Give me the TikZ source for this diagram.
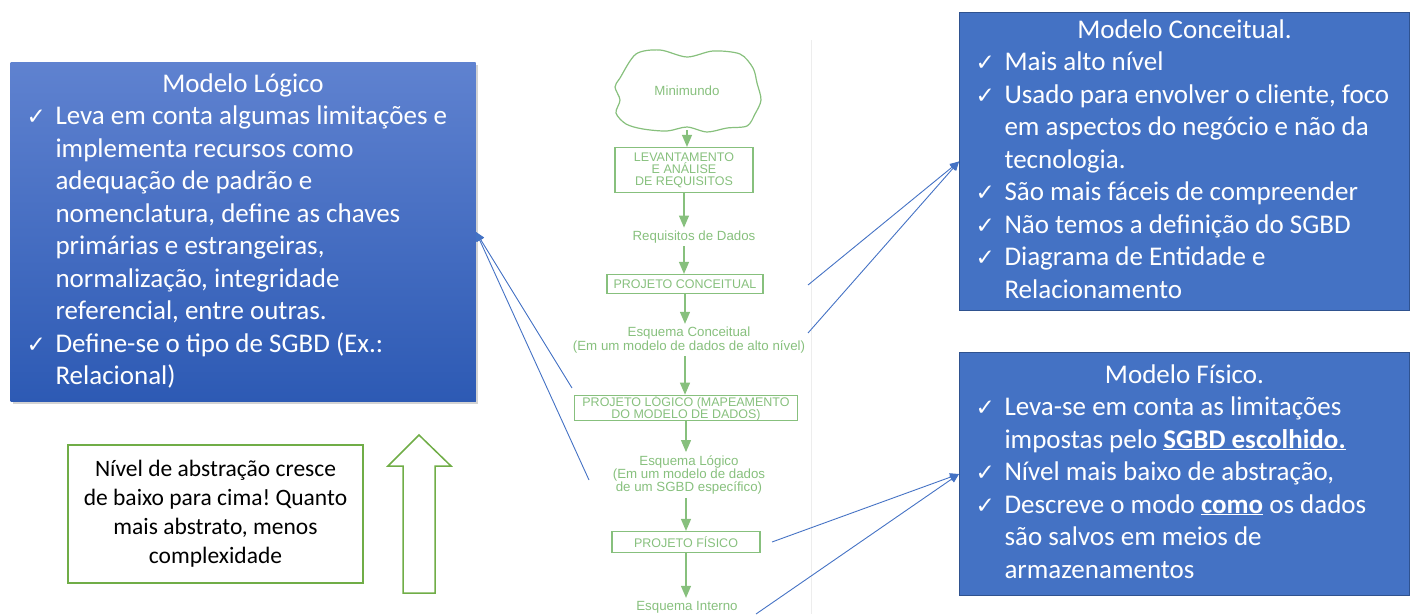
\documentclass[tikz,border=0pt]{standalone}
\usepackage{fontspec}
\setmainfont{Carlito}
\newfontfamily\flowfont{Liberation Sans}
\newfontfamily\symfont{DejaVu Sans}
\usetikzlibrary{arrows.meta,shadows}
\frenchspacing

\definecolor{boxblue}{RGB}{68,114,196}
\definecolor{boxedge}{RGB}{47,82,143}
\definecolor{gradtop}{RGB}{95,130,208}
\definecolor{gradbot}{RGB}{45,90,180}
\definecolor{notegreen}{RGB}{112,173,71}
\definecolor{flowgreen}{RGB}{135,192,125}

\newcommand{\chk}{{\symfont\fontsize{23}{23}\selectfont ✓}}

\tikzset{
  bluebox/.style={fill=boxblue, draw=boxedge, line width=1pt, text=white, inner sep=0pt,
    anchor=north west, font=\fontsize{27}{32.5}\selectfont},
  flowbox/.style={draw=flowgreen, line width=1.2pt, text=flowgreen, inner sep=0pt, align=center,
    font=\flowfont\fontsize{12.5}{12}\selectfont},
  flowtext/.style={text=flowgreen, inner sep=3pt, align=center,
    font=\flowfont\fontsize{13.3}{12}\selectfont},
  flowarrow/.style={color=flowgreen, line width=1.2pt, -{Triangle[length=12pt,width=10pt]}},
  bluearrow/.style={color=boxblue, line width=0.9pt, -{Triangle[length=9pt,width=8pt]}},
}

\begin{document}
\begin{tikzpicture}[x=1pt, y=-1pt]
	\useasboundingbox (0,0) rectangle (1410,614);

	% faint edge of the pasted figure
	\draw[black!7, line width=0.8pt] (811,40) -- (811,614);

	% flowchart
	\draw[flowgreen, line width=1.2pt] plot[smooth cycle] coordinates {(620,78) (636,54) (660,50) (687,57) (713,51) (740,54) (753,68) (757,83) (761,100) (755,114) (747,126) (727,128) (707,132) (687,127) (667,131) (643,129) (626,124) (616,113) (620,100) (615,87)};
	\node[flowtext, minimum width=140pt, minimum height=78pt] (mini) at (687,91) {Minimundo};
	\node[flowbox, minimum width=138pt, minimum height=45pt] (levant) at (684,170) {LEVANTAMENTO\\E ANÁLISE\\DE REQUISITOS};
	\node[flowtext] (reqdados) at (694,237) {Requisitos de Dados};
	\node[flowbox, minimum width=156pt, minimum height=19pt] (pconc) at (685,284) {PROJETO CONCEITUAL};
	\node[flowtext] (econc) at (689,340) {Esquema Conceitual\\(Em um modelo de dados de alto nível)};
	\node[flowbox, minimum width=223pt, minimum height=25pt] (plog) at (686,408) {PROJETO LÓGICO (MAPEAMENTO\\DO MODELO DE DADOS)};
	\node[flowtext] (elog) at (689,475) {Esquema Lógico\\(Em um modelo de dados\\de um SGBD específico)};
	\node[flowbox, minimum width=148pt, minimum height=21pt] (pfis) at (686,542) {PROJETO FÍSICO};
	\node[flowtext] (eint) at (687,607) {Esquema Interno};

	\path[flowarrow] (mini) edge (mini |- levant.north);
	\path[flowarrow] (levant) edge (levant |- reqdados.north);
	\path[flowarrow] (levant |- reqdados.south) edge (levant |- pconc.north);
	\path[flowarrow] (pconc) edge (pconc |- econc.north);
	\path[flowarrow] (pconc |- econc.south) edge (pconc |- plog.north);
	\path[flowarrow] (plog) edge (plog |- elog.north);
	\path[flowarrow] (plog |- elog.south) edge (plog |- pfis.north);
	\path[flowarrow] (pfis) edge (pfis |- eint.north);

	% text boxes
	\node[bluebox, draw=none, top color=gradtop, bottom color=gradbot,
	      drop shadow={opacity=0.35, shadow xshift=2pt, shadow yshift=-2pt},
	      minimum width=465pt, minimum height=339pt] (logico) at (10,62) {%
		\begin{tabular}{@{}p{29pt}@{}p{404pt}@{}}
		\multicolumn{2}{@{}c@{}}{Modelo Lógico}\\
		\chk & Leva em conta algumas limitações e\\
		     & implementa recursos como\\
		     & adequação de padrão e\\
		     & nomenclatura, define as chaves\\
		     & primárias e estrangeiras,\\
		     & normalização, integridade\\
		     & referencial, entre outras.\\
		\chk & Define-se o tipo de SGBD (Ex.:\\
		     & Relacional)
		\end{tabular}};

	\node[bluebox, minimum width=450pt, minimum height=298pt] (conceitual) at (959,12) {%
		\begin{tabular}{@{}p{29pt}@{}p{389pt}@{}}
		\multicolumn{2}{@{}c@{}}{Modelo Conceitual.}\\
		\chk & Mais alto nível\\
		\chk & Usado para envolver o cliente, foco\\
		     & em aspectos do negócio e não da\\
		     & tecnologia.\\
		\chk & São mais fáceis de compreender\\
		\chk & Não temos a definição do SGBD\\
		\chk & Diagrama de Entidade e\\
		     & Relacionamento
		\end{tabular}};

	\node[bluebox, minimum width=450pt, minimum height=243pt] (fisico) at (959,352) {%
		\begin{tabular}{@{}p{29pt}@{}p{389pt}@{}}
		\multicolumn{2}{@{}c@{}}{Modelo Físico.}\\
		\chk & Leva-se em conta as limitações\\
		     & impostas pelo \underline{\textbf{SGBD escolhido.}}\\
		\chk & Nível mais baixo de abstração,\\
		\chk & Descreve o modo \underline{\textbf{como}} os dados\\
		     & são salvos em meios de\\
		     & armazenamentos
		\end{tabular}};

	\node[draw=notegreen, line width=1.2pt, align=center, minimum width=295pt, minimum height=138pt,
	      font=\fontsize{23.5}{29}\selectfont] (nota) at (215.5,514)
	      {Nível de abstração cresce\\de baixo para cima! Quanto\\mais abstrato, menos\\complexidade};

	% up arrow
	\draw[notegreen, line width=1.5pt, line join=miter] (403,593) -- (403,466) -- (388,466) -- (419,435) -- (451,466) -- (435,466) -- (435,593) -- cycle;

	% connectors to the boxes
	\coordinate (l1) at (572,388);
	\coordinate (l2) at (589,480);
	\coordinate (c1) at (808,285);
	\coordinate (c2) at (808,333);
	\coordinate (f1) at (772,542);
	\coordinate (f2) at (756,614);

	\path[bluearrow] (l1) edge (logico.east);
	\path[bluearrow] (l2) edge (logico.east);
	\path[bluearrow] (c1) edge (conceitual.west);
	\path[bluearrow] (c2) edge (conceitual.west);
	\path[bluearrow] (f1) edge (fisico.west);
	\path[bluearrow] (f2) edge (fisico.west);

\end{tikzpicture}
\end{document}
